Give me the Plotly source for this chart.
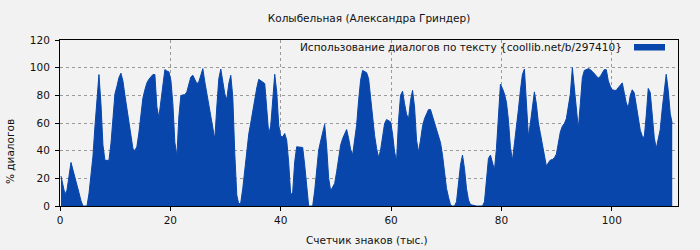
import plotly.graph_objects as go

title_text = "Колыбельная (Александра Гриндер)"
legend_text = "Использование диалогов по тексту {coollib.net/b/297410}"
x_title = "Счетчик знаков (тыс.)"
y_title = "% диалогов"

# counter step (thousands of characters) between consecutive samples
step_k = 0.362

dialog_pct = [
    # 0 .. 18
    21.6, 15, 8.4, 11.5, 23, 31.5, 26, 21, 15, 9.6, 3.8, 0, 0, 0, 8.7, 21, 36, 57.7, 79, 95,
    74, 44, 33, 33, 33, 45, 64.4, 81, 86.5, 92.8, 96, 90.4, 80, 70, 59.6, 50, 41.6, 40, 43, 52.9,
    68, 78, 84, 89, 91.6, 93.3, 95, 95, 71.6, 64, 76.4,
    # 18 .. 37
    89.7, 98.6, 97.6, 97, 91, 74, 46, 36, 64.4, 79.8, 80.3, 80.5, 82.5, 88, 93.3, 94.5, 91.6, 88.5, 89.7, 95,
    99.3, 89.7, 81.7, 74, 65.6, 56, 48.3, 71.6, 92, 99, 89.7, 81, 77, 88.5, 94.5, 79, 38, 8, 1.4, 2.4,
    12.7, 27, 41.6, 52, 60, 69, 77, 85.3, 91.6, 90.4, 89.7, 88.5,
    # 37 .. 55.6
    70.4, 52, 58, 80, 95.2, 82.5, 58.4, 50.5, 50, 52.4, 47.6, 31, 8, 10, 32, 42.8, 42.8, 42.3, 42.3, 29.6,
    11.5, 0, 0, 0, 11, 26, 40.4, 47, 54.3, 59, 42.8, 20, 11, 13.2, 16.3, 24.8, 35, 44, 48.8, 52,
    55.3, 48.8, 40.9, 37, 47.6, 58.4, 76.4, 91, 98, 97, 96.4,
    # 55.9 .. 74
    92, 77.6, 62, 51, 41.6, 35, 40.4, 50.5, 59.6, 62.5, 61.5, 60.8, 52, 39, 32.7, 62, 80, 83, 74, 66.3,
    63, 76.4, 83.6, 71.6, 47.6, 39, 47.6, 57.7, 63.2, 66.8, 69.7, 69.7, 65, 59.6, 54.8, 50.5, 45.7, 36.8, 24.8, 12.7,
    6.3, 0.7, 0, 0, 3.1, 15, 29.6, 36.8, 27, 12.7, 4.3,
    # 74.4 .. 92.5
    1, 0.5, 0, 0, 0, 0, 0, 3, 20, 34.4, 36.8, 30.8, 26, 41.6, 68, 88, 85, 81, 75, 62,
    42.3, 33, 45, 56, 69.7, 83.6, 95, 99, 69, 50, 60, 72.8, 82.5, 73.6, 60, 52.4, 44, 35.6, 28.8, 31.3,
    33.2, 33.6, 34.9, 37.5, 45.7, 53.6, 57.7, 59.6, 63.2, 72.8, 81,
    # 92.9 .. 111
    100, 86, 71.6, 56, 74, 92.8, 98, 98.6, 99.3, 98.6, 97.4, 95.7, 94, 92.5, 93.7, 96.6, 98.6, 98.5, 90.4, 86.5,
    84, 83.6, 83.6, 85.6, 87.7, 89, 81.7, 74.5, 71, 80, 84, 81.7, 72.8, 62, 54.8, 50.5, 49.5, 65.6, 85, 82,
    65.6, 49.5, 41.6, 48, 55.3, 70.4, 83.6, 95.2, 83.6, 66.8, 59.6,
]

counter_k = [step_k * (i + 0.5) for i in range(len(dialog_pct))]

bar_color = "#0846ab"
bg = "#f2f2f2"
font_family = "DejaVu Sans"
fs = 10.5
txt = "#111111"

# plot area in pixels: x 60..678, y 40..206
L, R, T, B = 60, 22, 40, 44
PW, PH = 700 - L - R, 250 - T - B

fig = go.Figure(
    go.Scatter(
        x=counter_k,
        y=dialog_pct,
        mode="lines",
        line=dict(shape="linear", width=1, color=bar_color),
        fill="tozeroy",
        fillcolor=bar_color,
        showlegend=False,
        hoverinfo="skip",
    )
)

axis_common = dict(
    tickmode="linear",
    tick0=0,
    dtick=20,
    showgrid=True,
    gridcolor="#9a9a9a",
    griddash="dot",
    gridwidth=1,
    showline=True,
    mirror=True,
    linecolor="black",
    linewidth=1,
    ticks="outside",
    ticklen=4,
    tickcolor="black",
    zeroline=False,
    automargin=False,
    tickfont=dict(family=font_family, size=fs, color=txt),
)

fig.update_layout(
    width=700,
    height=250,
    margin=dict(l=L, r=R, t=T, b=B),
    paper_bgcolor=bg,
    plot_bgcolor=bg,
    font=dict(family=font_family, size=fs, color=txt),
    title=dict(
        text=title_text,
        x=(L + PW / 2) / 700,
        xanchor="center",
        y=1 - 18 / 250,
        yanchor="middle",
        font=dict(family=font_family, size=fs, color=txt),
    ),
    xaxis=dict(range=[0, 112], **axis_common),
    yaxis=dict(range=[0, 120], ticklabelstandoff=3, **axis_common),
    annotations=[
        dict(
            text=legend_text,
            xref="paper", yref="paper",
            x=(624 - L) / PW, y=1 - 7 / PH,
            xanchor="right", yanchor="middle",
            showarrow=False,
            font=dict(family=font_family, size=fs, color=txt),
        ),
        dict(
            text=x_title,
            xref="paper", yref="paper",
            x=(367 - L) / PW, y=(206 - 240) / PH,
            xanchor="center", yanchor="middle",
            showarrow=False,
            font=dict(family=font_family, size=fs, color=txt),
        ),
        dict(
            text=y_title,
            xref="paper", yref="paper",
            x=(10 - L) / PW, y=(206 - 152) / PH,
            xanchor="center", yanchor="middle",
            textangle=-90,
            showarrow=False,
            font=dict(family=font_family, size=fs, color=txt),
        ),
    ],
    shapes=[
        dict(
            type="rect",
            xref="paper", yref="paper",
            x0=(634 - L) / PW, x1=(665 - L) / PW,
            y0=1 - 10.5 / PH, y1=1 - 4 / PH,
            fillcolor=bar_color,
            line=dict(width=0),
        )
    ],
)

fig.write_html("out.html")
